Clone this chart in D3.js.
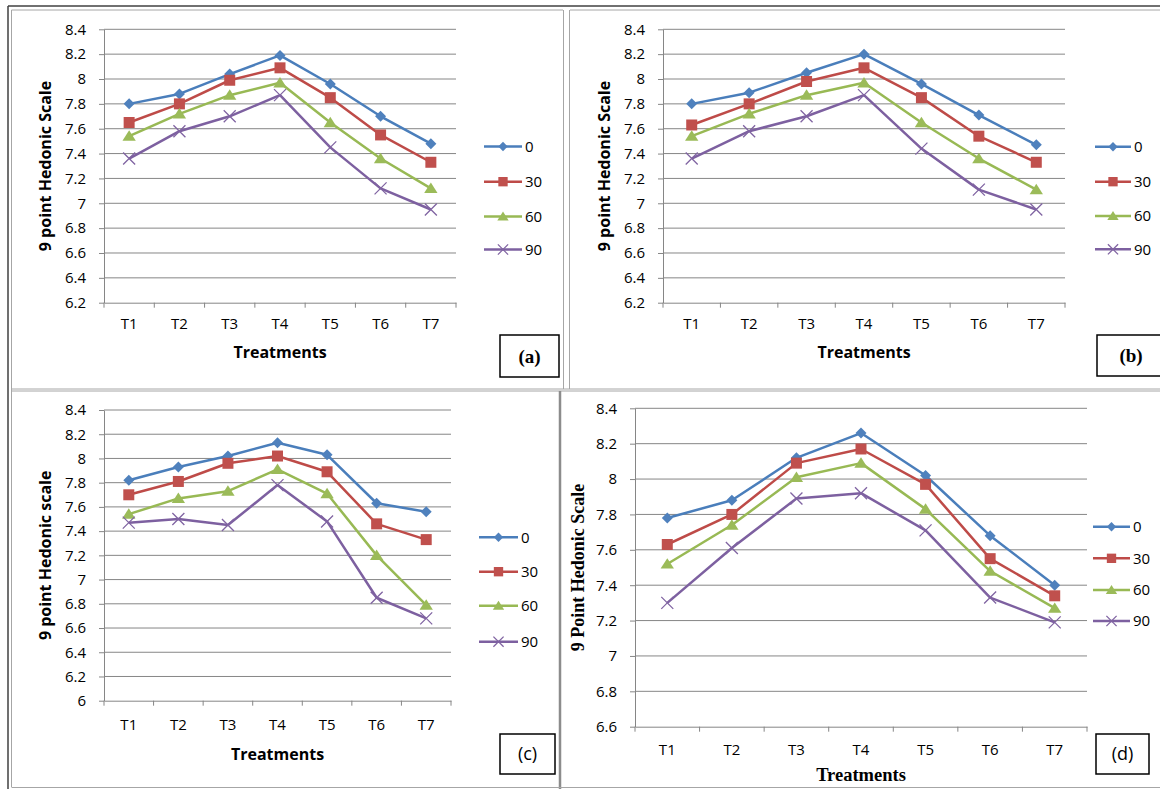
<!DOCTYPE html>
<html>
<head>
<meta charset="utf-8">
<script src="https://cdnjs.cloudflare.com/ajax/libs/d3/7.8.5/d3.min.js"></script>
<style>
  body { margin: 0; background: #fff; }
  svg { display: block; }
</style>
</head>
<body>
<script>

var treatments = ["T1", "T2", "T3", "T4", "T5", "T6", "T7"];
var seriesNames = ["0", "30", "60", "90"];

// panel (a)
var a0  = [7.80, 7.88, 8.04, 8.19, 7.96, 7.70, 7.48];
var a30 = [7.65, 7.80, 7.99, 8.09, 7.85, 7.55, 7.33];
var a60 = [7.54, 7.72, 7.87, 7.97, 7.65, 7.36, 7.12];
var a90 = [7.36, 7.58, 7.70, 7.87, 7.45, 7.12, 6.95];

// panel (b)
var b0  = [7.80, 7.89, 8.05, 8.20, 7.96, 7.71, 7.47];
var b30 = [7.63, 7.80, 7.98, 8.09, 7.85, 7.54, 7.33];
var b60 = [7.54, 7.72, 7.87, 7.97, 7.65, 7.36, 7.11];
var b90 = [7.36, 7.58, 7.70, 7.87, 7.44, 7.11, 6.95];

// panel (c)
var c0  = [7.82, 7.93, 8.02, 8.13, 8.03, 7.63, 7.56];
var c30 = [7.70, 7.81, 7.96, 8.02, 7.89, 7.46, 7.33];
var c60 = [7.54, 7.67, 7.73, 7.91, 7.71, 7.20, 6.79];
var c90 = [7.47, 7.50, 7.45, 7.78, 7.48, 6.85, 6.68];

// panel (d)
var d0  = [7.78, 7.88, 8.12, 8.26, 8.02, 7.68, 7.40];
var d30 = [7.63, 7.80, 8.09, 8.17, 7.97, 7.55, 7.34];
var d60 = [7.52, 7.74, 8.01, 8.09, 7.83, 7.48, 7.27];
var d90 = [7.30, 7.61, 7.89, 7.92, 7.71, 7.33, 7.19];

var yTicksAB = [6.2, 6.4, 6.6, 6.8, 7, 7.2, 7.4, 7.6, 7.8, 8, 8.2, 8.4];
var yTicksC  = [6, 6.2, 6.4, 6.6, 6.8, 7, 7.2, 7.4, 7.6, 7.8, 8, 8.2, 8.4];
var yTicksD  = [6.6, 6.8, 7, 7.2, 7.4, 7.6, 7.8, 8, 8.2, 8.4];

var SANS = "'Open Sans', Lato, sans-serif";
var SERIF = "'Liberation Serif', 'DejaVu Serif', serif";

var lineColors   = ["#4A7EBB", "#BE4B48", "#98B954", "#7D60A0"];
var markerColors = ["#4F81BD", "#C0504D", "#9BBB59", "#8064A2"];

// custom marker shapes, size = half width
var diamond = { draw: function(ctx, r) { ctx.moveTo(0, -r); ctx.lineTo(r, 0); ctx.lineTo(0, r); ctx.lineTo(-r, 0); ctx.closePath(); } };
var square = { draw: function(ctx, r) { ctx.rect(-r, -r, 2 * r, 2 * r); } };
var triangle = { draw: function(ctx, r) { ctx.moveTo(0, -r); ctx.lineTo(r * 1.15, r * 0.8); ctx.lineTo(-r * 1.15, r * 0.8); ctx.closePath(); } };
var cross = { draw: function(ctx, r) { ctx.moveTo(-r, -r); ctx.lineTo(r, r); ctx.moveTo(r, -r); ctx.lineTo(-r, r); } };
var shapes = [diamond, square, triangle, cross];
var shapeSize = [5.5, 5.5, 5.8, 6];

var panels = [
  { series: [a0, a30, a60, a90], ticks: yTicksAB, left: 104, right: 456, top: 29.3, bottom: 302.7,
    yTitle: "9 point Hedonic Scale", titleX: 45, titleFont: SANS, titleSize: 16,
    xLabelOff: 16, xTitleY: 358, xTitleFont: SANS, xTitleSize: 16,
    legX: 484, legW: 38, legY: [146.5, 181.7, 216.5, 249.5],
    box: [500, 335, 59, 42], boxText: "(a)", boxFont: SERIF, boxWeight: "bold", boxSize: 19 },
  { series: [b0, b30, b60, b90], ticks: yTicksAB, left: 663, right: 1065, top: 29.3, bottom: 302.7,
    yTitle: "9 point Hedonic Scale", titleX: 604, titleFont: SANS, titleSize: 16,
    xLabelOff: 16, xTitleY: 358, xTitleFont: SANS, xTitleSize: 16,
    legX: 1095, legW: 36, legY: [146.7, 181.7, 216, 249.3],
    box: [1097, 335, 80, 41], boxText: "(b)", boxFont: SERIF, boxWeight: "bold", boxSize: 19 },
  { series: [c0, c30, c60, c90], ticks: yTicksC, left: 104, right: 451, top: 410, bottom: 700.7,
    yTitle: "9 point Hedonic scale", titleX: 45, titleFont: SANS, titleSize: 16,
    xLabelOff: 19, xTitleY: 759.5, xTitleFont: SANS, xTitleSize: 16,
    legX: 479, legW: 39, legY: [537.3, 571.7, 605.7, 641.7],
    box: [500, 734, 55, 40], boxText: "(c)", boxFont: SANS, boxWeight: "normal", boxSize: 18 },
  { series: [d0, d30, d60, d90], ticks: yTicksD, left: 635, right: 1087, top: 408.3, bottom: 726.7,
    yTitle: "9 Point Hedonic Scale", titleX: 578, titleFont: SERIF, titleSize: 18,
    xLabelOff: 18, xTitleY: 781, xTitleFont: SERIF, xTitleSize: 18.5,
    legX: 1093, legW: 37, legY: [526.7, 558.3, 590, 621],
    box: [1096, 734, 53, 40], boxText: "(d)", boxFont: SANS, boxWeight: "normal", boxSize: 18 }
];

var svg = d3.select("body").append("svg")
  .attr("width", 1160)
  .attr("height", 789);

svg.append("rect").attr("width", 1160).attr("height", 789).attr("fill", "#fff");

// table frame of the figure
var frame = svg.append("g").attr("fill", "none");
function fl(x1, y1, x2, y2, col, w) {
  frame.append("line").attr("x1", x1).attr("y1", y1).attr("x2", x2).attr("y2", y2)
    .attr("stroke", col).attr("stroke-width", w);
}
fl(8, 6, 1160, 6, "#404040", 1.5);
fl(8, 6, 8, 789, "#404040", 1.5);
fl(11.5, 10, 563, 10, "#a6a6a6", 1);
fl(570, 10, 1160, 10, "#a6a6a6", 1);
fl(11.5, 10, 11.5, 787, "#a6a6a6", 1);
fl(563.5, 10, 563.5, 389, "#a6a6a6", 1);
fl(569.5, 10, 569.5, 389, "#a6a6a6", 1);
fl(11.5, 389, 1160, 389, "#a6a6a6", 1);
fl(11.5, 391, 1160, 391, "#a6a6a6", 1);
fl(560, 391, 560, 789, "#8c8c8c", 2.5);
fl(11.5, 787.5, 1160, 787.5, "#a6a6a6", 1);

panels.forEach(function(p) {
  var g = svg.append("g");

  var y = d3.scaleLinear()
    .domain([p.ticks[0], p.ticks[p.ticks.length - 1]])
    .range([p.bottom, p.top]);

  var x = d3.scaleBand()
    .domain(treatments)
    .range([p.left, p.right]);

  // gridlines
  g.selectAll(".grid")
    .data(p.ticks.slice(1))
    .enter()
    .append("line")
    .attr("x1", p.left)
    .attr("x2", p.right)
    .attr("y1", d => y(d))
    .attr("y2", d => y(d))
    .attr("stroke", "#868686")
    .attr("stroke-width", 1);

  // y axis
  var yAxis = g.append("g")
    .attr("transform", `translate(${p.left},0)`)
    .call(d3.axisLeft(y).tickValues(p.ticks).tickSize(5).tickSizeOuter(0).tickPadding(13).tickFormat(d => d));

  // x axis labels
  var xAxis = g.append("g")
    .attr("transform", `translate(0,${p.bottom})`)
    .call(d3.axisBottom(x).tickSize(0).tickPadding(p.xLabelOff));

  [yAxis, xAxis].forEach(function(ax) {
    ax.attr("font-family", null).attr("font-size", null);
    ax.select(".domain").attr("stroke", "#868686").attr("stroke-width", 1);
    ax.selectAll(".tick line").attr("stroke", "#868686");
    ax.selectAll("text").attr("font-family", SANS).attr("font-size", "15px").attr("fill", "#000");
  });

  // category boundary ticks
  g.selectAll(".xtick")
    .data(d3.range(treatments.length + 1))
    .enter()
    .append("line")
    .attr("x1", i => x.range()[0] + i * x.step())
    .attr("x2", i => x.range()[0] + i * x.step())
    .attr("y1", p.bottom)
    .attr("y2", p.bottom + 5)
    .attr("stroke", "#868686");

  // axis titles
  g.append("text")
    .attr("transform", `translate(${p.titleX},${(p.top + p.bottom) / 2}) rotate(-90)`)
    .attr("text-anchor", "middle")
    .attr("dy", "0.35em")
    .attr("font-family", p.titleFont)
    .attr("font-size", p.titleSize + "px")
    .attr("font-weight", "bold")
    .text(p.yTitle);

  g.append("text")
    .attr("x", (p.left + p.right) / 2)
    .attr("y", p.xTitleY)
    .attr("text-anchor", "middle")
    .attr("font-family", p.xTitleFont)
    .attr("font-size", p.xTitleSize + "px")
    .attr("font-weight", "bold")
    .text("Treatments");

  var line = d3.line()
    .x((d, i) => x(treatments[i]) + x.bandwidth() / 2)
    .y(d => y(d));

  p.series.forEach(function(vals, k) {
    g.append("path")
      .datum(vals)
      .attr("d", line)
      .attr("fill", "none")
      .attr("stroke", lineColors[k])
      .attr("stroke-width", 2.5)
      .attr("stroke-linejoin", "round");

    g.selectAll(".m" + k)
      .data(vals)
      .enter()
      .append("path")
      .attr("transform", (d, i) => `translate(${x(treatments[i]) + x.bandwidth() / 2},${y(d)})`)
      .attr("d", d3.symbol().type(shapes[k]).size(shapeSize[k]))
      .attr("fill", k === 3 ? "none" : markerColors[k])
      .attr("stroke", k === 3 ? markerColors[k] : "none")
      .attr("stroke-width", 1.3);
  });

  // legend
  var leg = g.selectAll(".leg")
    .data(seriesNames)
    .enter()
    .append("g")
    .attr("transform", (d, i) => `translate(${p.legX},${p.legY[i]})`);

  leg.append("line")
    .attr("x1", 0)
    .attr("x2", p.legW)
    .attr("stroke", (d, i) => lineColors[i])
    .attr("stroke-width", 2.5);

  leg.append("path")
    .attr("transform", `translate(${p.legW / 2},0)`)
    .attr("d", (d, i) => d3.symbol().type(shapes[i]).size(shapeSize[i] * 0.85)())
    .attr("fill", (d, i) => i === 3 ? "none" : markerColors[i])
    .attr("stroke", (d, i) => i === 3 ? markerColors[i] : "none")
    .attr("stroke-width", 1.3);

  leg.append("text")
    .attr("x", p.legW + 3)
    .attr("dy", "0.35em")
    .attr("font-family", SANS)
    .attr("font-size", "15px")
    .text(d => d);

  // panel letter box
  g.append("rect")
    .attr("x", p.box[0])
    .attr("y", p.box[1])
    .attr("width", p.box[2])
    .attr("height", p.box[3])
    .attr("fill", "#fff")
    .attr("stroke", "#000")
    .attr("stroke-width", 1.5);

  g.append("text")
    .attr("x", p.boxText === "(b)" ? 1131 : p.box[0] + p.box[2] / 2)
    .attr("y", p.box[1] + p.box[3] / 2)
    .attr("dy", "0.35em")
    .attr("text-anchor", "middle")
    .attr("font-family", p.boxFont)
    .attr("font-weight", p.boxWeight)
    .attr("font-size", p.boxSize + "px")
    .text(p.boxText);
});

</script>
</body>
</html>
